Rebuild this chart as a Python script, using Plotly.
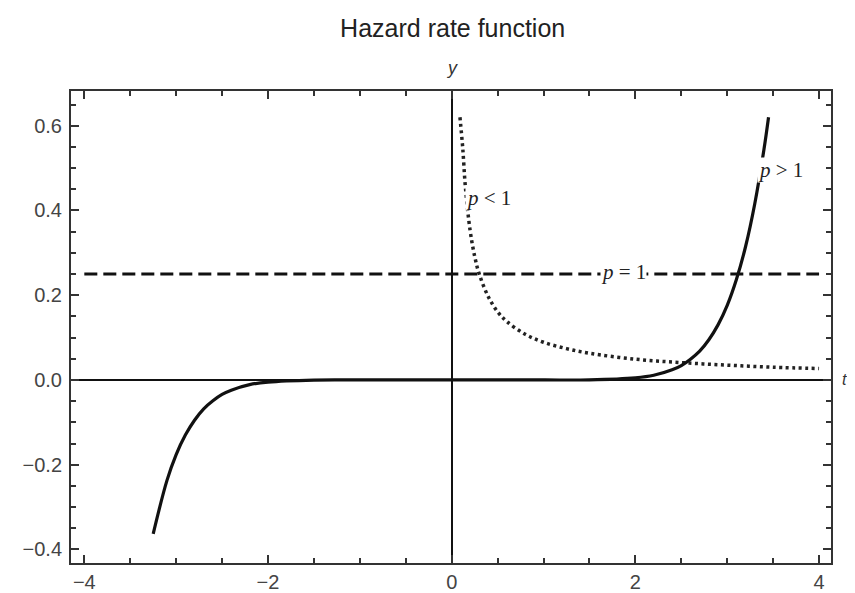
import plotly.graph_objects as go

# --- data ---
x_pgt1 = [-3.25, -3.1, -3.0, -2.9, -2.8, -2.7, -2.6, -2.5, -2.4, -2.2, -2.0, -1.5, -1.0, 0.0,
          1.0, 1.5, 2.0, 2.2, 2.4, 2.5, 2.6, 2.7, 2.8, 2.9, 3.0, 3.1, 3.2, 3.3, 3.4, 3.45]
y_pgt1 = [-0.363, -0.237, -0.176, -0.130, -0.095, -0.068, -0.049, -0.034, -0.024, -0.011, -0.005,
          -0.0003, 0.0, 0.0, 0.0, 0.0003, 0.005, 0.011, 0.024, 0.034, 0.049, 0.068, 0.095, 0.130,
          0.176, 0.237, 0.315, 0.416, 0.544, 0.62]

x_plt1 = [0.09, 0.12, 0.15, 0.2, 0.25, 0.3, 0.4, 0.5, 0.6, 0.8, 1.0, 1.25, 1.5, 2.0, 2.5, 3.0, 3.5, 4.0]
y_plt1 = [0.62, 0.548, 0.453, 0.354, 0.292, 0.25, 0.196, 0.161, 0.138, 0.108, 0.089, 0.074,
          0.063, 0.049, 0.041, 0.035, 0.030, 0.027]

x_peq1 = [-4.0, 4.0]
y_peq1 = [0.25, 0.25]

labels = ["<i>p</i> > 1", "<i>p</i> < 1", "<i>p</i> = 1"]
label_x = [3.32, 0.14, 1.87]
label_y = [0.496, 0.43, 0.255]

title_text = "Hazard rate function"

fig = go.Figure()
fig.add_trace(go.Scatter(x=x_peq1, y=y_peq1, mode="lines",
                         line=dict(color="#111", width=3, dash="13px,6px"), showlegend=False))
fig.add_trace(go.Scatter(x=x_plt1, y=y_plt1, mode="lines", line_shape="spline",
                         line=dict(color="#222", width=3.5, dash="3px,3.5px"), showlegend=False))
fig.add_trace(go.Scatter(x=x_pgt1, y=y_pgt1, mode="lines", line_shape="spline",
                         line=dict(color="#111", width=3.2), showlegend=False))

serif = dict(family="Liberation Serif, Times New Roman, serif", size=21, color="#222")
anchors = ["left", "left", "center"]
for t, lx, ly, anc in zip(labels, label_x, label_y, anchors):
    fig.add_annotation(x=lx, y=ly, text=t, showarrow=False, xanchor=anc, yanchor="middle",
                       font=serif, bgcolor="white", borderpad=0)

sans = "Liberation Sans, Arial, sans-serif"
fig.add_annotation(x=0, y=1, xref="x", yref="paper", text="<i>y</i>", showarrow=False,
                   yanchor="middle", yshift=23, font=dict(family=sans, size=18, color="#333"))
fig.add_annotation(x=1, y=0, xref="paper", yref="y", text="<i>t</i>", showarrow=False,
                   xanchor="left", xshift=9, font=dict(family=sans, size=16, color="#333"))

axis_common = dict(showgrid=False, showline=True, mirror="ticks", linecolor="#333", linewidth=2,
                   ticks="inside", tickcolor="#333", tickwidth=1.5, ticklen=8,
                   zeroline=True, zerolinecolor="#111", zerolinewidth=1.5, automargin=False,
                   tickfont=dict(family=sans, size=20, color="#444"))

fig.update_xaxes(range=[-4.145, 4.13], tickmode="linear", tick0=0, dtick=2,
                 minor=dict(dtick=0.5, ticks="inside", ticklen=5, tickcolor="#333", tickwidth=1.5),
                 **axis_common)
fig.update_yaxes(range=[-0.432, 0.682], tickmode="linear", tick0=0, dtick=0.2, tickformat=".1f",
                 minor=dict(dtick=0.05, ticks="inside", ticklen=5, tickcolor="#333", tickwidth=1.5),
                 ticklabelstandoff=3, **axis_common)

# page body has an 8px default margin: the figure is sized and offset to compensate
fig.update_layout(
    width=847, height=585,
    margin=dict(l=63, r=24, t=83, b=30),
    paper_bgcolor="white", plot_bgcolor="white",
    title=dict(text=title_text, x=0.525, xanchor="center", y=0.965, yanchor="middle",
               font=dict(family=sans, size=25, color="#222")),
)

fig.write_html("out.html")
